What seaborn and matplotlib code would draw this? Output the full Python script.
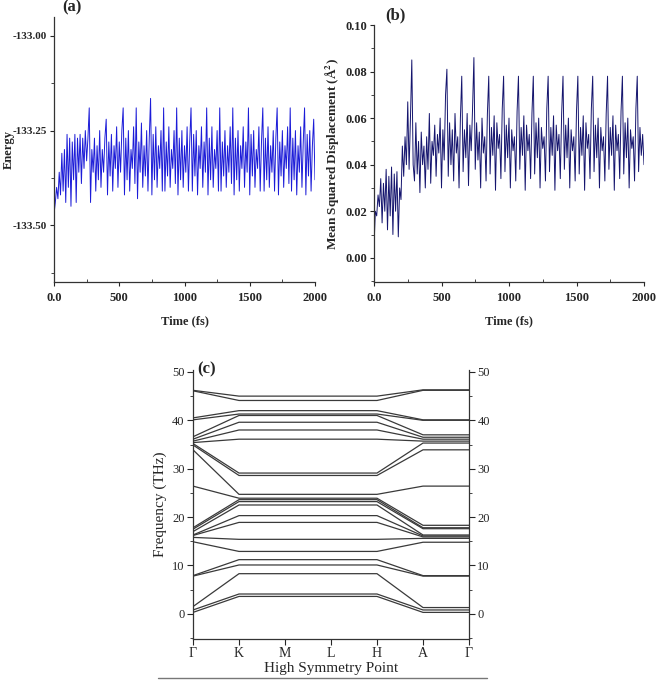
import numpy as np
import pandas as pd
import seaborn as sns
import matplotlib.pyplot as plt
from matplotlib.lines import Line2D
from matplotlib.ticker import AutoMinorLocator, MultipleLocator

energy = [
    -133.47, -133.44, -133.40, -133.43, -133.36, -133.42, -133.31, -133.41, -133.30, -133.44,
    -133.26, -133.40, -133.27, -133.45, -133.28, -133.38, -133.26, -133.44, -133.27, -133.36,
    -133.26, -133.39, -133.27, -133.35, -133.25, -133.33, -133.27, -133.19, -133.44, -133.30,
    -133.36, -133.27, -133.41, -133.29, -133.38, -133.25, -133.40, -133.30, -133.36, -133.27,
    -133.22, -133.42, -133.28, -133.37, -133.26, -133.41, -133.29, -133.35, -133.24, -133.40,
    -133.28, -133.36, -133.25, -133.19, -133.42, -133.27, -133.38, -133.25, -133.41, -133.30,
    -133.35, -133.24, -133.39, -133.19, -133.43, -133.28, -133.36, -133.23, -133.40, -133.29,
    -133.37, -133.25, -133.41, -133.27, -133.165, -133.42, -133.26, -133.38, -133.24, -133.40,
    -133.29, -133.35, -133.25, -133.41, -133.19, -133.41, -133.28, -133.37, -133.24, -133.40,
    -133.30, -133.35, -133.25, -133.39, -133.19, -133.42, -133.27, -133.38, -133.25, -133.40,
    -133.29, -133.36, -133.24, -133.41, -133.28, -133.19, -133.41, -133.26, -133.37, -133.25,
    -133.42, -133.29, -133.35, -133.24, -133.40, -133.28, -133.36, -133.19, -133.42, -133.27,
    -133.38, -133.24, -133.40, -133.30, -133.35, -133.25, -133.41, -133.19, -133.41, -133.28,
    -133.37, -133.25, -133.40, -133.29, -133.36, -133.24, -133.39, -133.19, -133.42, -133.27,
    -133.38, -133.25, -133.41, -133.29, -133.35, -133.24, -133.40, -133.28, -133.36, -133.19,
    -133.42, -133.26, -133.37, -133.25, -133.40, -133.30, -133.35, -133.24, -133.41, -133.28,
    -133.19, -133.41, -133.27, -133.38, -133.24, -133.40, -133.29, -133.36, -133.25, -133.41,
    -133.27, -133.19, -133.42, -133.28, -133.37, -133.25, -133.40, -133.29, -133.35, -133.24,
    -133.39, -133.19, -133.41, -133.27, -133.38, -133.25, -133.42, -133.29, -133.36, -133.24,
    -133.40, -133.28, -133.19, -133.42, -133.26, -133.37, -133.25, -133.41, -133.29, -133.22,
    -133.38,
]

# mean squared displacement, every 10 fs (panel b)
msd = [
    0.005, 0.020, 0.018, 0.027, 0.022, 0.034, 0.015, 0.032, 0.020, 0.038,
    0.012, 0.035, 0.018, 0.039, 0.010, 0.036, 0.020, 0.037, 0.009, 0.030,
    0.025, 0.048, 0.035, 0.052, 0.040, 0.067, 0.038, 0.060, 0.085, 0.040,
    0.033, 0.058, 0.036, 0.050, 0.028, 0.054, 0.040, 0.048, 0.030, 0.052,
    0.038, 0.062, 0.032, 0.050, 0.044, 0.057, 0.035, 0.053, 0.045, 0.060,
    0.030, 0.055, 0.042, 0.070, 0.081, 0.035, 0.058, 0.040, 0.055, 0.033,
    0.062, 0.045, 0.052, 0.030, 0.060, 0.078, 0.037, 0.055, 0.043, 0.062,
    0.031, 0.057, 0.046, 0.064, 0.086, 0.038, 0.058, 0.042, 0.054, 0.030,
    0.060, 0.045, 0.052, 0.033, 0.062, 0.078, 0.036, 0.056, 0.044, 0.061,
    0.029, 0.058, 0.047, 0.053, 0.034, 0.064, 0.078, 0.037, 0.057, 0.043,
    0.060, 0.030, 0.055, 0.046, 0.052, 0.033, 0.063, 0.078, 0.038, 0.056,
    0.044, 0.061, 0.029, 0.057, 0.046, 0.053, 0.034, 0.062, 0.078, 0.036,
    0.058, 0.043, 0.060, 0.030, 0.056, 0.047, 0.052, 0.033, 0.064, 0.078,
    0.037, 0.056, 0.044, 0.061, 0.029, 0.057, 0.046, 0.053, 0.034, 0.062,
    0.078, 0.038, 0.057, 0.043, 0.060, 0.030, 0.055, 0.046, 0.052, 0.033,
    0.063, 0.078, 0.036, 0.056, 0.044, 0.061, 0.029, 0.058, 0.047, 0.053,
    0.034, 0.064, 0.078, 0.037, 0.057, 0.043, 0.060, 0.030, 0.056, 0.046,
    0.052, 0.033, 0.062, 0.078, 0.038, 0.056, 0.044, 0.061, 0.029, 0.057,
    0.046, 0.053, 0.034, 0.063, 0.078, 0.036, 0.058, 0.043, 0.060, 0.030,
    0.055, 0.047, 0.052, 0.033, 0.064, 0.078, 0.037, 0.056, 0.044, 0.053,
    0.040,
]

# phonon bands (THz) at each high-symmetry point, sorted high -> low
kpath = ["Γ", "K", "M", "L", "H", "A", "Γ"]
f_gamma = [46.2, 46.1, 40.5, 40.1, 36.6, 36.1, 35.7, 35.4, 35.2, 34.9, 33.9, 26.4,
           17.8, 17.5, 17.0, 16.3, 16.2, 15.8, 14.9, 7.9, 7.8, 1.5, 0.8, 0.3]
f_k = [45.0, 44.1, 42.0, 41.3, 41.0, 39.6, 38.0, 36.1, 29.1, 28.6, 24.7, 23.9,
       23.6, 23.2, 22.5, 20.3, 18.9, 15.4, 12.9, 11.2, 10.1, 8.3, 4.1, 3.6]
f_m = f_k
f_l = f_k
f_h = f_k
f_a = [46.3, 46.2, 40.1, 40.0, 37.0, 36.5, 36.1, 35.7, 35.3, 33.9, 26.4, 18.3,
       17.8, 17.6, 16.3, 16.1, 15.9, 15.6, 14.8, 7.9, 7.8, 1.3, 0.8, 0.3]
f_gamma2 = f_a

sns.set_theme(style="ticks")
plt.rcParams["font.family"] = ["Liberation Serif", "DejaVu Serif"]
plt.rcParams["mathtext.fontset"] = "stix"

fig = plt.figure(figsize=(6.61, 6.80), dpi=100)
ax1 = fig.add_axes([54 / 661, 1 - 282 / 680, 261 / 661, 265 / 680])
ax2 = fig.add_axes([374 / 661, 1 - 282 / 680, 270 / 661, 257 / 680])
ax3 = fig.add_axes([193 / 661, 1 - 639 / 680, 276 / 661, 269 / 680])

t1 = np.linspace(0, 2000, len(energy))
t2 = np.linspace(0, 2000, len(msd))
sns.lineplot(x=t1, y=energy, ax=ax1, color="#1c1cd8", lw=0.7)
sns.lineplot(x=t2, y=msd, ax=ax2, color="#15156e", lw=0.7)

bold = dict(fontweight="bold", fontsize=9)
for ax in (ax1, ax2):
    ax.set_xlim(0, 2000)
    ax.set_xticks([0, 500, 1000, 1500, 2000])
    ax.set_xticklabels(["0.0", "500", "1000", "1500", "2000"], **bold)
    ax.xaxis.set_minor_locator(MultipleLocator(250))
    ax.yaxis.set_minor_locator(AutoMinorLocator(2))
    ax.set_xlabel("Time (fs)", labelpad=8, **bold)
    ax.tick_params(which="major", length=3, width=0.8, pad=2)
    ax.tick_params(axis="x", which="major", pad=4)
    ax.tick_params(which="minor", length=2, width=0.6)
    ax.tick_params(axis="x", which="minor", direction="in")
    for s in ax.spines.values():
        s.set_linewidth(0.9)
        s.set_color("#333333")
    sns.despine(ax=ax)

ax1.set_ylim(-133.65, -132.95)
ax1.set_yticks([-133.5, -133.25, -133.0])
ax1.set_yticklabels(["-133.50", "-133.25", "-133.00"], fontweight="bold", fontsize=8)
ax1.set_ylabel("Energy", **bold)
ax1.yaxis.set_label_coords(-0.15, 0.5)
ax1.text(0.07, 1.035, "(a)", transform=ax1.transAxes, fontsize=12,
         fontweight="bold", ha="center", va="center")

ax2.set_ylim(-0.0104, 0.10)
ax2.set_yticks([0.0, 0.02, 0.04, 0.06, 0.08, 0.10])
ax2.set_yticklabels(["0.00", "0.02", "0.04", "0.06", "0.08", "0.10"], **bold)
ax2.set_ylabel("Mean Squared Displacement (Å$^{\\mathbf{2}}$)",
               fontweight="bold", fontsize=9.5)
ax2.yaxis.set_label_coords(-0.118, 0.5)
ax2.text(0.078, 1.039, "(b)", transform=ax2.transAxes, fontsize=12,
         fontweight="bold", ha="center", va="center")

# band structure
cols = [f_gamma, f_k, f_m, f_l, f_h, f_a, f_gamma2]
rows = []
for i, col in enumerate(cols):
    for b, f in enumerate(col):
        rows.append({"k": i, "band": b, "freq": f})
bands = pd.DataFrame(rows)
sns.lineplot(data=bands, x="k", y="freq", units="band", estimator=None,
             color="#3a3a3a", lw=0.9, ax=ax3)

ax3.set_xlim(0, len(kpath) - 1)
ax3.set_ylim(-5.2, 50.4)
ax3.set_xticks(range(len(kpath)))
ax3.set_xticklabels(kpath, fontsize=10)
ax3.set_yticks([0, 10, 20, 30, 40, 50])
ax3.yaxis.set_minor_locator(MultipleLocator(5))
ax3.tick_params(axis="y", which="both", left=True, right=True,
                labelleft=True, labelright=True, labelsize=9)
ax3.tick_params(which="major", length=4, width=0.8, pad=2)
ax3.tick_params(which="minor", length=2, width=0.6)
ax3.set_xlabel("High Symmetry Point", fontsize=11, labelpad=1)
ax3.set_ylabel("Frequency (THz)", fontsize=11, labelpad=4)
ax3.spines["top"].set_visible(False)
for s in ("left", "right", "bottom"):
    ax3.spines[s].set_linewidth(0.9)
    ax3.spines[s].set_color("#333333")
ax3.text(0.05, 1.004, "(c)", transform=ax3.transAxes, fontsize=12,
         fontweight="bold", ha="center", va="center")

fig.add_artist(Line2D([158 / 661, 487 / 661], [1 - 678 / 680, 1 - 678 / 680],
                      color="#777777", lw=1.0))

fig.savefig("out.png", dpi=100)
